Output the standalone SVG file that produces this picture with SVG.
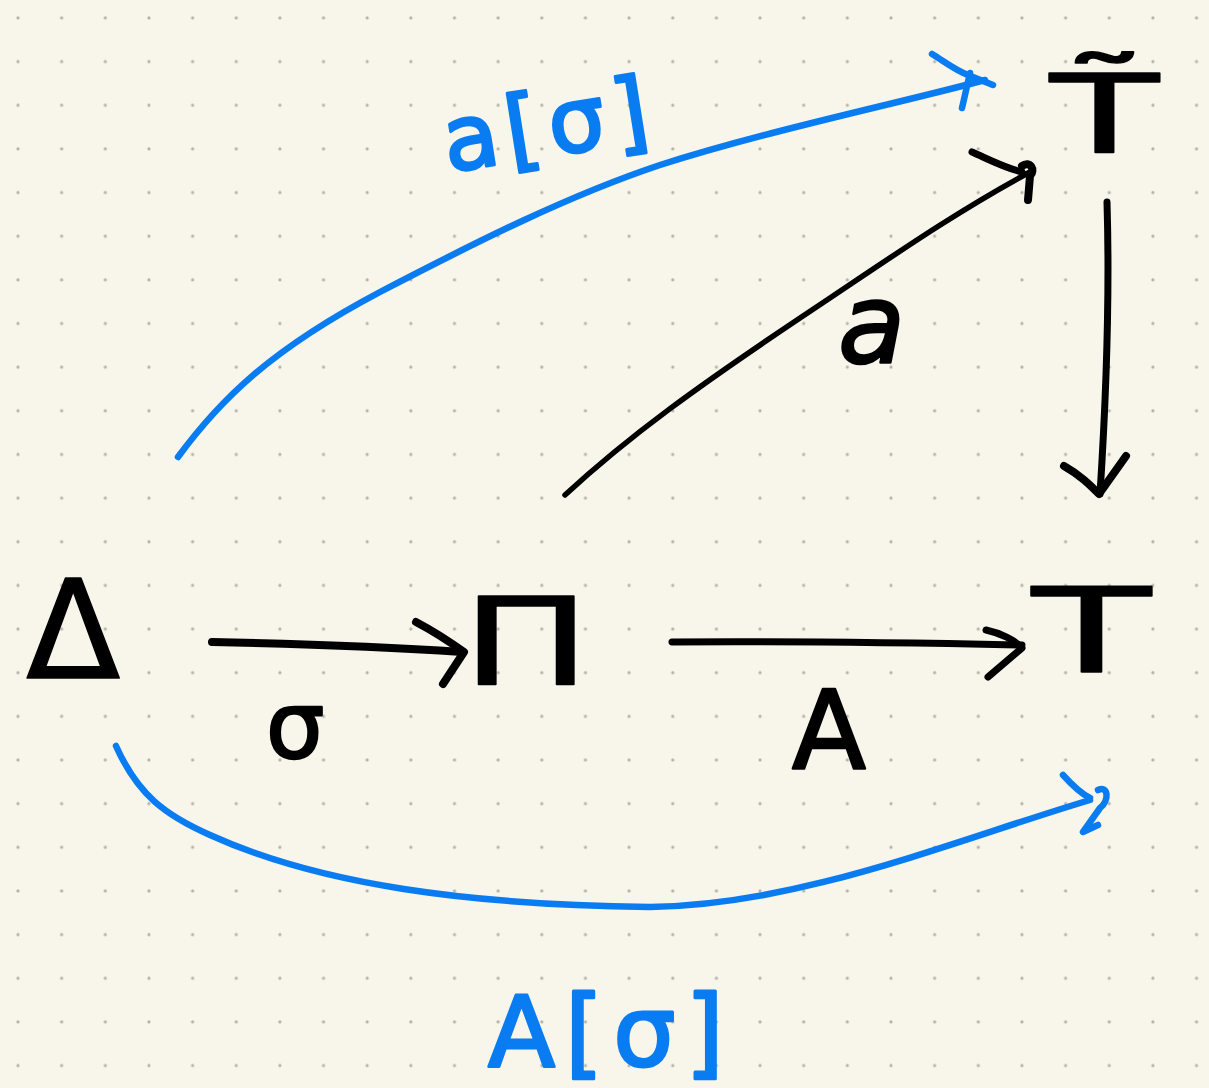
<svg xmlns="http://www.w3.org/2000/svg" width="1209" height="1088" viewBox="0 0 1209 1088">
<defs>
<pattern id="dots" x="-3.8" y="-3.8" width="43.65" height="43.65" patternUnits="userSpaceOnUse">
<circle cx="21.8" cy="21.8" r="1.6" fill="#b4b2aa"/>
</pattern>
<style>
.bk{fill:none;stroke:#000;stroke-linecap:round;stroke-linejoin:round}
.bl{fill:none;stroke:#0a7cf2;stroke-linecap:round;stroke-linejoin:round;stroke-width:6.5}
.node{font-family:"DejaVu Sans",sans-serif;fill:#000;stroke:#000;stroke-width:1.5;stroke-linejoin:round}
.lab{font-family:"DejaVu Sans",sans-serif;fill:#000;stroke:#000;stroke-width:2.5;stroke-linejoin:round}
.blab{font-family:"DejaVu Sans",sans-serif;fill:#0a7cf2;stroke:#0a7cf2;stroke-width:3;stroke-linejoin:round}
</style>
</defs>
<rect width="1209" height="1088" fill="#f8f6eb"/>
<rect width="1209" height="1088" fill="url(#dots)"/>
<g id="connectors">
<g id="e-sigma">
<path class="bk" stroke-width="8" d="M212,642 C300,644 400,648 462,652"/>
<path class="bk" stroke-width="8" d="M416,622 C435,632 450,642 464,652 L443,684"/>
</g>
<g id="e-A">
<path class="bk" stroke-width="7" d="M672,642 C800,641 920,643 1022,645"/>
<path class="bk" stroke-width="7" d="M986,630 C1000,633 1015,640 1022,648 L988,677"/>
</g>
<g id="e-a">
<path class="bk" stroke-width="5.5" d="M565,495 C630,435 700,385 800,318 C880,265 950,215 1030,172"/>
<path class="bk" stroke-width="7" d="M972,152 C990,160 1005,168 1022,172"/>
<path class="bk" stroke-width="8" d="M1022,166 C1030,160 1036,170 1030,176 L1028,200"/>
</g>
<g id="e-vert">
<path class="bk" stroke-width="7" d="M1107,202 C1110,300 1106,400 1100,494"/>
<path class="bk" stroke-width="8" d="M1064,466 C1080,475 1090,485 1099,494 L1126,456"/>
</g>
<g id="e-asigma">
<path class="bl" d="M178,457 C220,400 270,350 380,292 C480,240 570,195 660,165 C770,130 900,103 985,80"/>
<path class="bl" stroke-width="9" d="M932,54 C945,62 955,70 968,75 L993,85"/>
<path class="bl" stroke-width="9" d="M970,73 L962,108"/>
</g>
<g id="e-Asigma">
<path class="bl" d="M116,746 C138,795 165,815 210,835 C320,885 470,905 650,907 C800,905 950,842 1090,800"/>
<path class="bl" stroke-width="9" d="M1063,775 C1072,785 1080,793 1090,798"/>
<path class="bl" stroke-width="9" d="M1098,790 C1108,785 1110,800 1100,808 L1083,832 L1098,825"/>
</g>
</g>
<g id="n-Delta"><text class="node" x="26" y="678" font-size="138" stroke-width="2.5">Δ</text></g>
<g id="n-Pi"><text class="node" x="462" y="684" font-size="122" transform="translate(462,0) scale(1.4,1) translate(-462,0)">Π</text></g>
<g id="n-T"><text class="node" x="1032" y="672" font-size="118" transform="translate(1032,0) scale(1.65,1) translate(-1032,0)">T</text></g>
<g id="n-Ttilde"><text class="node" x="1050" y="152" font-size="108" transform="translate(1050,0) scale(1.65,1) translate(-1050,0)">T̃</text></g>
<g id="labels">
<text class="lab" x="266" y="758" font-size="92">σ</text>
<text class="lab" x="792" y="768" font-size="108">A</text>
<text class="lab" x="838" y="362" font-size="110" font-style="italic">a</text>
<text class="blab" x="448" y="172" font-size="90" letter-spacing="8" transform="rotate(-9 448 172)">a[σ]</text>
<text class="blab" x="488" y="1066" font-size="98" letter-spacing="10">A[σ]</text>
</g>
</svg>
